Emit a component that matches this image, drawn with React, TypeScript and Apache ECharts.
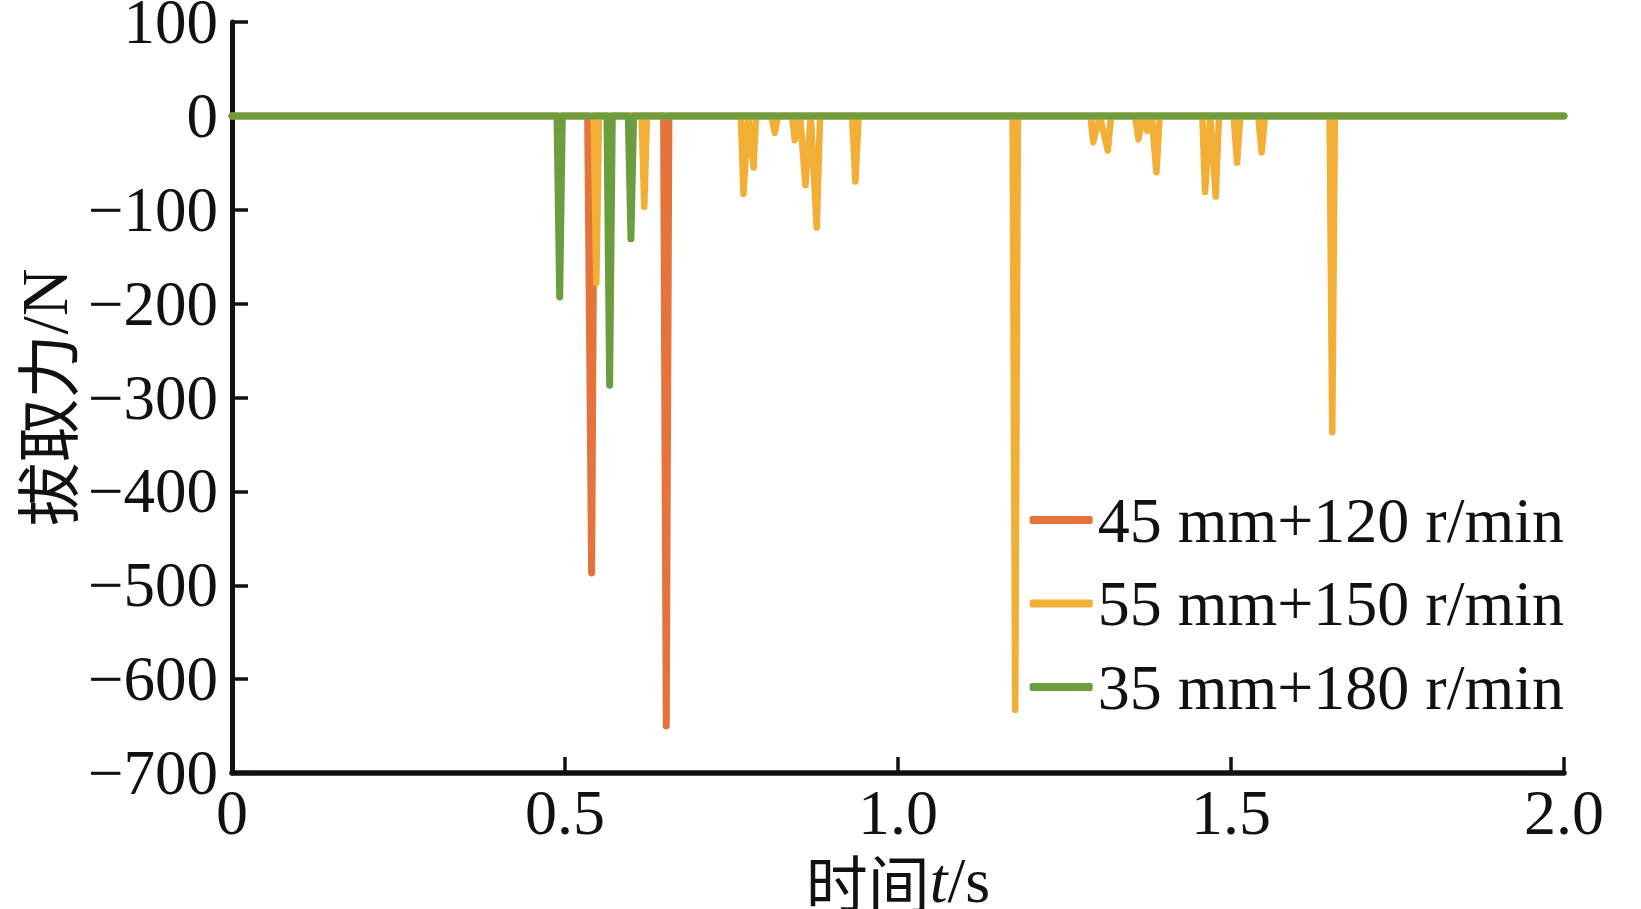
import React, { useEffect, useRef } from "react";
import * as echarts from "echarts";

const seriesNames = ["45 mm+120 r/min", "55 mm+150 r/min", "35 mm+180 r/min"];
const seriesColors = ["#E4733C", "#F2AE35", "#6C9E3F"];

const xTickLabels = ["0", "0.5", "1.0", "1.5", "2.0"];
const yTickLabels = ["100", "0", "−100", "−200", "−300", "−400", "−500", "−600", "−700"];

// 45 mm+120 r/min : [time s, force N]
const orangeData: number[][] = [
  [0, 0], [0.534, 0], [0.540, -487], [0.544, 0],
  [0.648, 0], [0.652, -650], [0.656, 0], [2.0, 0],
];

// 55 mm+150 r/min
const yellowData: number[][] = [
  [0, 0],
  [0.543, 0], [0.547, -178], [0.551, 0],
  [0.615, 0], [0.619, -97], [0.623, 0],
  [0.764, 0], [0.768, -83], [0.775, 0], [0.783, -55], [0.787, 0],
  [0.810, 0], [0.815, -18], [0.820, 0],
  [0.841, 0], [0.845, -26], [0.853, 0], [0.861, -74], [0.869, 0], [0.878, -119], [0.883, 0],
  [0.931, 0], [0.936, -70], [0.941, 0],
  [1.172, 0], [1.176, -633], [1.180, 0],
  [1.289, 0], [1.293, -28], [1.303, 0], [1.315, -37], [1.320, 0],
  [1.356, 0], [1.361, -25], [1.367, 0], [1.374, -16], [1.381, 0], [1.388, -60], [1.393, 0],
  [1.457, 0], [1.461, -81], [1.469, 0], [1.477, -86], [1.482, 0],
  [1.504, 0], [1.509, -50], [1.514, 0],
  [1.541, 0], [1.546, -39], [1.551, 0],
  [1.648, 0], [1.652, -337], [1.656, 0],
  [2.0, 0],
];

// 35 mm+180 r/min
const greenData: number[][] = [
  [0, 0],
  [0.488, 0], [0.492, -193], [0.496, 0],
  [0.563, 0], [0.567, -287], [0.571, 0],
  [0.595, 0], [0.599, -131], [0.603, 0],
  [2.0, 0],
];

const seriesData = [orangeData, yellowData, greenData];
const lineWidths = [7, 6.5, 7];

const SERIF = "'Liberation Serif', 'Times New Roman', serif";
const CJK = "'Noto Sans CJK SC', sans-serif";

export default function App() {
  const ref = useRef<HTMLDivElement | null>(null);

  useEffect(() => {
    document.body.style.margin = "0";
    document.body.style.overflow = "hidden";
    if (!ref.current) return;
    const chart = echarts.init(ref.current, undefined, { renderer: "svg" });
    chart.setOption({
      animation: false,
      backgroundColor: "#ffffff",
      grid: {
        left: 232,
        right: 77,
        top: 22,
        bottom: 136,
        containLabel: false,
        outerBoundsMode: "none",
      },
      legend: {
        orient: "vertical",
        right: 72,
        top: 483,
        align: "left",
        icon: "roundRect",
        itemWidth: 63,
        itemHeight: 8,
        itemGap: 19.5,
        textStyle: { fontFamily: SERIF, fontSize: 64, color: "#111", lineHeight: 64 },
        data: seriesNames.map((n, i) => ({ name: n, itemStyle: { color: seriesColors[i] } })),
      },
      xAxis: {
        type: "value",
        min: 0,
        max: 2,
        interval: 0.5,
        axisLine: { onZero: false, show: true, lineStyle: { color: "#111", width: 5.5 } },
        axisTick: { show: true, inside: true, length: 16, lineStyle: { color: "#111", width: 3.5 } },
        splitLine: { show: false },
        axisLabel: {
          fontFamily: SERIF,
          fontSize: 64,
          lineHeight: 46,
          color: "#111",
          margin: 16,
          formatter: (v: number) => xTickLabels[Math.round(v / 0.5)] ?? String(v),
        },
        name: "{z|时间}{i|t}{r|/s}",
        nameLocation: "middle",
        nameGap: 68,
        nameTextStyle: {
          lineHeight: 56,
          rich: {
            z: { fontFamily: CJK, fontSize: 62, color: "#111", lineHeight: 56 },
            i: { fontFamily: SERIF, fontStyle: "italic", fontSize: 64, color: "#111", lineHeight: 56 },
            r: { fontFamily: SERIF, fontSize: 64, color: "#111", lineHeight: 56 },
          },
        },
      },
      yAxis: {
        type: "value",
        min: -700,
        max: 100,
        interval: 100,
        axisLine: { show: true, lineStyle: { color: "#111", width: 5 } },
        axisTick: { show: true, inside: true, length: 16, lineStyle: { color: "#111", width: 3.5 } },
        splitLine: { show: false },
        axisLabel: {
          fontFamily: SERIF,
          fontSize: 63,
          lineHeight: 44,
          color: "#111",
          margin: 14,
          formatter: (v: number) => yTickLabels[Math.round((100 - v) / 100)] ?? String(v),
        },
        name: "{z|拔取力}{r|/N}",
        nameLocation: "middle",
        nameGap: 158,
        nameTextStyle: {
          lineHeight: 60,
          rich: {
            z: { fontFamily: CJK, fontSize: 64, color: "#111", lineHeight: 60 },
            r: { fontFamily: SERIF, fontSize: 66, color: "#111", lineHeight: 60 },
          },
        },
      },
      series: seriesNames.map((n, i) => ({
        name: n,
        type: "line",
        data: seriesData[i],
        symbol: "none",
        color: seriesColors[i],
        lineStyle: { color: seriesColors[i], width: lineWidths[i], cap: "round", join: "round" },
        z: 2 + i,
      })),
    });
    return () => chart.dispose();
  }, []);

  return <div ref={ref} style={{ width: 1641, height: 909 }} />;
}
